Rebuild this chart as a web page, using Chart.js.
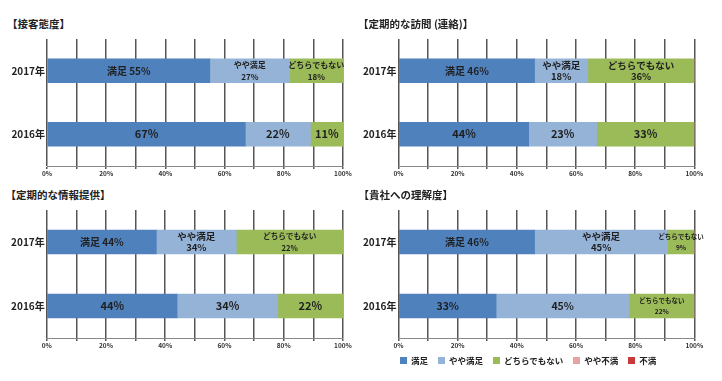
<!DOCTYPE html>
<html>
<head>
<meta charset="utf-8">
<script src="https://cdn.jsdelivr.net/npm/chart.js@4"></script>
<style>
  html, body { margin: 0; padding: 0; background: #fff; }
  body { width: 722px; height: 381px; position: relative; overflow: hidden;
         font-family: 'Noto Sans CJK JP', sans-serif; }
  .title { position: absolute; font-size: 10.5px; font-weight: bold; color: #222;
           line-height: 12px; height: 12px; white-space: nowrap; }
  .panel { position: absolute; }
  #legend { position: absolute; left: 400px; top: 354px; height: 12px; display: flex;
            align-items: center; gap: 10px; font-size: 8.5px; font-weight: bold; color: #222; }
  #legend .item { display: flex; align-items: center; gap: 4px; white-space: nowrap; }
  #legend .box { width: 7px; height: 7px; display: inline-block; }
</style>
</head>
<body>
<script>
// ---------- data ----------
const categories = ['2017年', '2016年'];
const seriesNames = ['満足', 'やや満足', 'どちらでもない', 'やや不満', '不満'];
const panelTitles = ['【接客態度】', '【定期的な訪問 (連絡)】', '【定期的な情報提供】', '【貴社への理解度】'];

// values per series: [2017, 2016]
const serviceValues = [[55, 67], [27, 22], [18, 11], [0, 0], [0, 0]];
const visitValues = [[46, 44], [18, 23], [36, 33], [0, 0], [0, 0]];
const infoValues = [[37, 44], [27, 34], [36, 22], [0, 0], [0, 0]];
const understandingValues = [[46, 33], [45, 45], [9, 22], [0, 0], [0, 0]];

// segment label texts
const serviceLabels = [['満足 55%', '67%'], ['やや満足\n27%', '22%'], ['どちらでもない\n18%', '11%']];
const visitLabels = [['満足 46%', '44%'], ['やや満足\n18%', '23%'], ['どちらでもない\n36%', '33%']];
const infoLabels = [['満足 44%', '44%'], ['やや満足\n34%', '34%'], ['どちらでもない\n22%', '22%']];
const understandingLabels = [['満足 46%', '33%'], ['やや満足\n45%', '45%'], ['どちらでもない\n9%', 'どちらでもない\n22%']];

const xTickStep = 10;
const xTickLabelEvery = 20;

// ---------- styles ----------
const colors = ['#4F81BD', '#95B3D7', '#9BBB59', '#E6A3A3', '#C83A3A'];
const FONT = "'Noto Sans CJK JP', sans-serif";
Chart.defaults.font.family = FONT;

const labelSizes = [
  [[10, 11], [8, 11], [8, 11]],
  [[10, 11], [9.5, 11], [9.5, 11]],
  [[10, 11], [9.5, 11], [7.6, 11]],
  [[10, 10.5], [9.5, 10.5], [6.5, 6.5]]
];

const panels = [
  { values: serviceValues, labels: serviceLabels, left: 0, top: 0, w: 361, h: 185, yW: 47, rPad: 18, tPad: 39, xH: 19, titleL: 7, titleT: 17.5 },
  { values: visitValues, labels: visitLabels, left: 361, top: 0, w: 361, h: 185, yW: 37.5, rPad: 27.7, tPad: 39, xH: 19, titleL: 358, titleT: 17.5 },
  { values: infoValues, labels: infoLabels, left: 0, top: 185, w: 361, h: 196, yW: 46.7, rPad: 18, tPad: 25, xH: 43, titleL: 5.5, titleT: 189 },
  { values: understandingValues, labels: understandingLabels, left: 361, top: 185, w: 361, h: 196, yW: 37.5, rPad: 27.7, tPad: 25, xH: 43, titleL: 358.5, titleT: 189 }
];

const segLabelPlugin = {
  id: 'segLabels',
  afterDatasetsDraw(chart, args, opts) {
    const ctx = chart.ctx;
    ctx.save();
    ctx.fillStyle = '#1F1F1F';
    ctx.textAlign = 'center';
    ctx.textBaseline = 'middle';
    (opts.texts || []).forEach((row, di) => {
      const meta = chart.getDatasetMeta(di);
      row.forEach((txt, i) => {
        const el = meta.data[i];
        if (!el || !txt) return;
        const cx = (el.x + el.base) / 2;
        const cy = el.y;
        const size = opts.sizes[di][i];
        ctx.font = 'bold ' + size + 'px ' + FONT;
        const lines = txt.split('\n');
        const gap = 11.5;
        const start = cy - (lines.length - 1) * gap / 2;
        lines.forEach((ln, k) => ctx.fillText(ln, cx, start + k * gap));
      });
    });
    ctx.restore();
  }
};

panels.forEach((p, idx) => {
  const t = document.createElement('div');
  t.className = 'title';
  t.style.left = p.titleL + 'px';
  t.style.top = p.titleT + 'px';
  t.textContent = panelTitles[idx];
  document.body.appendChild(t);

  const c = document.createElement('canvas');
  c.className = 'panel';
  c.width = p.w; c.height = p.h;
  c.style.left = p.left + 'px'; c.style.top = p.top + 'px';
  c.style.width = p.w + 'px'; c.style.height = p.h + 'px';
  document.body.appendChild(c);

  new Chart(c, {
    type: 'bar',
    data: {
      labels: categories,
      datasets: seriesNames.map((name, si) => ({
        label: name,
        data: p.values[si],
        backgroundColor: colors[si],
        borderWidth: 0,
        barThickness: 24
      }))
    },
    options: {
      indexAxis: 'y',
      responsive: false,
      animation: false,
      layout: { padding: { top: p.tPad, right: p.rPad, left: 0, bottom: 0 } },
      plugins: {
        legend: { display: false },
        tooltip: { enabled: false },
        segLabels: { texts: p.labels, sizes: labelSizes[idx] }
      },
      scales: {
        x: {
          type: 'linear', stacked: true, min: 0, max: 100,
          afterFit: s => { s.height = p.xH; },
          ticks: {
            stepSize: xTickStep, autoSkip: false, maxRotation: 0,
            callback: v => (v % xTickLabelEvery === 0 ? v + '%' : ''),
            font: { size: 6.5, weight: 'bold' }, color: '#333', padding: 1
          },
          grid: { color: '#555', lineWidth: 1.5, tickLength: 3, drawTicks: true },
          border: { display: true, color: '#888', width: 1 }
        },
        y: {
          type: 'category', stacked: true,
          afterFit: s => { s.width = p.yW; },
          ticks: { font: { size: 10, weight: 'bold' }, color: '#222', padding: 2 },
          grid: { display: false, drawTicks: false },
          border: { display: false }
        }
      }
    },
    plugins: [segLabelPlugin]
  });
});

// legend
const lg = document.createElement('div');
lg.id = 'legend';
seriesNames.forEach((name, i) => {
  const it = document.createElement('span');
  it.className = 'item';
  const b = document.createElement('span');
  b.className = 'box';
  b.style.background = colors[i];
  const tx = document.createElement('span');
  tx.textContent = name;
  it.appendChild(b); it.appendChild(tx);
  lg.appendChild(it);
});
document.body.appendChild(lg);
</script>
</body>
</html>
